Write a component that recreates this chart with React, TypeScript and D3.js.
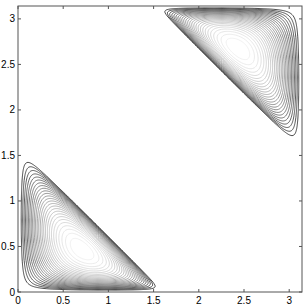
import React, { useEffect, useRef } from "react";
import * as d3 from "d3";

// axis ticks
const xTicks = [0, 0.5, 1, 1.5, 2, 2.5, 3];
const yTicks = [0, 0.5, 1, 1.5, 2, 2.5, 3];
const domain = [0, Math.PI];

// lobe shape: extent along x, extent along y
const lobeExtent = [1.62, 1.6];
// exponents on x, y and the slanted edge
const lobePowers = [1.2, 0.8, 0.75];
// thin layer along the lobe's base (width)
const baseLayer = [0.04];
// contour levels
const levelCount = [26];
const levelStart = [1.8];

const W = 306;
const H = 307;
const margin = { left: 18, right: 4, top: 6, bottom: 15 };

function lobe(x: number, y: number) {
  const [lx, ly] = lobeExtent;
  const [a, b, c] = lobePowers;
  const r = 1 - x / lx - y / ly;
  if (x <= 0 || y <= 0 || r <= 0) return 0;
  return Math.pow(x, a) * Math.pow(y, b) * Math.pow(r, c) * (1 - Math.exp(-y / baseLayer[0]));
}

export default function App() {
  const ref = useRef<SVGSVGElement>(null);

  useEffect(() => {
    document.body.style.margin = "0";
    const svg = d3.select(ref.current);
    svg.selectAll("*").remove();

    const x = d3.scaleLinear().domain(domain).range([margin.left, W - margin.right]);
    const y = d3.scaleLinear().domain(domain).range([H - margin.bottom, margin.top]);

    const n = 300;
    const step = Math.PI / n;
    const values = new Array(n * n);
    for (let j = 0; j < n; j++) {
      for (let i = 0; i < n; i++) {
        const px = (i + 0.5) * step;
        const py = (j + 0.5) * step;
        values[j * n + i] = lobe(px, py) + lobe(Math.PI - px, Math.PI - py);
      }
    }
    const fmax = d3.max(values) as number;
    const nl = levelCount[0];
    const thresholds = d3.range(0, nl).map((k) => (fmax * (k + levelStart[0])) / (nl + levelStart[0]));

    const contours = d3.contours().size([n, n]).thresholds(thresholds)(values);

    const proj = d3.geoTransform({
      point: function (gx: number, gy: number) {
        (this as any).stream.point(x(gx * step), y(gy * step));
      },
    });
    const path = d3.geoPath(proj);
    const shade = d3.scalePow<string>().exponent(0.75)
      .domain([thresholds[0], thresholds[nl - 1]])
      .range(["#303030", "#eeeeee"]);

    svg.append("defs").append("clipPath").attr("id", "plotclip")
      .append("rect")
      .attr("x", margin.left).attr("y", margin.top)
      .attr("width", W - margin.left - margin.right)
      .attr("height", H - margin.top - margin.bottom);

    svg.append("g").attr("clip-path", "url(#plotclip)")
      .selectAll("path")
      .data(contours)
      .join("path")
      .attr("d", path as any)
      .attr("fill", "none")
      .attr("stroke", (d) => shade(d.value))
      .attr("stroke-width", 0.9);

    // box
    svg.append("rect")
      .attr("x", margin.left).attr("y", margin.top)
      .attr("width", W - margin.left - margin.right)
      .attr("height", H - margin.top - margin.bottom)
      .attr("fill", "none").attr("stroke", "#555").attr("stroke-width", 1);

    const tl = 3;
    const g = svg.append("g").attr("stroke", "#555").attr("stroke-width", 1);
    xTicks.forEach((t) => {
      g.append("line").attr("x1", x(t)).attr("x2", x(t)).attr("y1", y(0)).attr("y2", y(0) - tl);
      g.append("line").attr("x1", x(t)).attr("x2", x(t)).attr("y1", y(Math.PI)).attr("y2", y(Math.PI) + tl);
    });
    yTicks.forEach((t) => {
      g.append("line").attr("x1", x(0)).attr("x2", x(0) + tl).attr("y1", y(t)).attr("y2", y(t));
      g.append("line").attr("x1", x(Math.PI)).attr("x2", x(Math.PI) - tl).attr("y1", y(t)).attr("y2", y(t));
    });

    svg.append("g").selectAll("text").data(xTicks).join("text")
      .attr("x", (d) => x(d)).attr("y", H - 3)
      .attr("text-anchor", "middle")
      .attr("font-family", "Liberation Sans, Arial, sans-serif")
      .attr("font-size", 10)
      .text((d) => String(d));

    svg.append("g").selectAll("text").data(yTicks).join("text")
      .attr("x", margin.left - 3).attr("y", (d) => y(d) + 3.5)
      .attr("text-anchor", "end")
      .attr("font-family", "Liberation Sans, Arial, sans-serif")
      .attr("font-size", 10)
      .text((d) => String(d));
  }, []);

  return <svg ref={ref} width={W} height={H} style={{ display: "block", background: "#fff" }} />;
}
